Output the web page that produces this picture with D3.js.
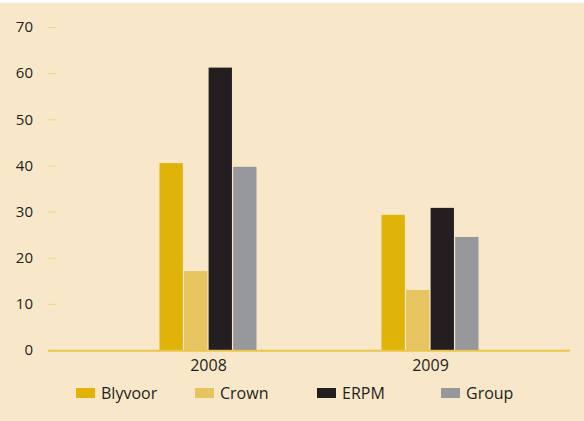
<!DOCTYPE html>
<html>
<head>
<meta charset="utf-8">
<script src="https://cdn.jsdelivr.net/npm/d3@7"></script>
<style>
  html, body { margin: 0; padding: 0; background: #ffffff; }
  svg { display: block; }
  text { font-family: "Open Sans", "Noto Sans", sans-serif; fill: #231f20; }
</style>
</head>
<body>
<svg id="chart" width="584" height="421"></svg>
<script>
// Chart data
const years = ["2008", "2009"];
const seriesNames = ["Blyvoor", "Crown", "ERPM", "Group"];
const blyvoor = [40.5, 29.3];
const crown = [17.1, 13.0];
const erpm = [61.2, 30.8];
const group = [39.7, 24.5];
const yTicks = [0, 10, 20, 30, 40, 50, 60, 70];
const colors = ["#dfb307", "#e6c560", "#231f20", "#97989c"];

const seriesValues = [blyvoor, crown, erpm, group];

const svg = d3.select("#chart");
const W = 584, H = 421;

// Panel background
svg.append("rect")
  .attr("x", 0).attr("y", 3)
  .attr("width", W).attr("height", H - 3)
  .attr("fill", "#f8e8c9");

const y = d3.scaleLinear().domain([0, 70]).range([350, 27]);
const x0 = d3.scalePoint().domain(years).range([97, 541]).padding(0.5);
const x1 = d3.scaleBand().domain(seriesNames).range([-48.5, 48.5]).paddingInner(0.05);
const color = d3.scaleOrdinal().domain(seriesNames).range(colors);

// Y axis: short ticks and labels, no domain line
const yAxis = d3.axisLeft(y).tickValues(yTicks).tickSize(8).tickPadding(15);
const gy = svg.append("g").attr("transform", "translate(56,0)").call(yAxis);
gy.select(".domain").remove();
gy.selectAll(".tick line").attr("stroke", "#f0d68c").attr("stroke-width", 1);
gy.selectAll(".tick text")
  .attr("font-size", 15)
  .attr("fill", "#231f20")
  .style("font-family", '"Open Sans", sans-serif');

// Bars
const rows = years.map((yr, i) => ({
  year: yr,
  values: seriesNames.map((s, j) => ({ series: s, value: seriesValues[j][i] }))
}));

const groups = svg.append("g").selectAll("g")
  .data(rows).join("g")
  .attr("transform", d => `translate(${x0(d.year)},0)`);

groups.selectAll("rect")
  .data(d => d.values).join("rect")
  .attr("x", d => x1(d.series))
  .attr("width", x1.bandwidth())
  .attr("y", d => y(d.value))
  .attr("height", d => y(0) - y(d.value))
  .attr("fill", d => color(d.series));

// Baseline
svg.append("line")
  .attr("x1", 48).attr("x2", 570)
  .attr("y1", y(0) + 0.8).attr("y2", y(0) + 0.8)
  .attr("stroke", "#e6c23f").attr("stroke-width", 2)
  .attr("stroke-opacity", 0.9);

// X axis labels
const xAxis = d3.axisBottom(x0).tickSize(0).tickPadding(10);
const gx = svg.append("g").attr("transform", `translate(0,${y(0)})`).call(xAxis);
gx.select(".domain").remove();
gx.selectAll(".tick text")
  .attr("font-size", 16)
  .attr("fill", "#231f20")
  .style("font-family", '"Open Sans", sans-serif');

// Legend
const legendX = [76, 195, 317, 441];
const legend = svg.append("g").selectAll("g")
  .data(seriesNames).join("g")
  .attr("transform", (d, i) => `translate(${legendX[i]},388)`);
legend.append("rect")
  .attr("width", 19).attr("height", 10)
  .attr("fill", d => color(d));
legend.append("text")
  .attr("x", 25).attr("y", 5)
  .attr("dy", "0.35em")
  .attr("font-size", 16)
  .text(d => d);
</script>
</body>
</html>
